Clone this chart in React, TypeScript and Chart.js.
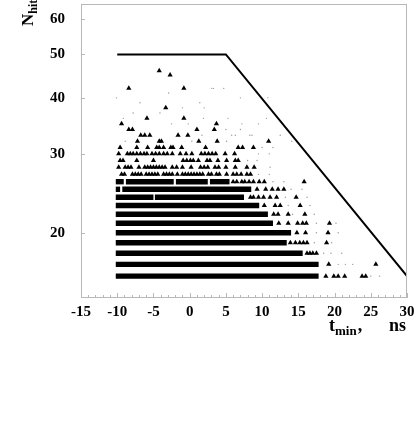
import React, { useEffect, useRef } from "react";
import { Chart, registerables } from "chart.js";
Chart.register(...registerables);

// tick labels
const xTicks = [-15, -10, -5, 0, 5, 10, 15, 20, 25, 30];
const yTicks = [20, 30, 40, 50, 60];

// boundary line (t_min, N_hit)
const boundaryX = [-10, 5, 30];
const boundaryY = [50, 50, 16];

// dense runs of overlapping triangles: row N_hit, start t_min, end t_min
const denseN = [16, 17, 18, 19, 20, 21, 22, 23, 24, 24, 25, 25, 26, 26, 26, 26];
const denseStart = [-10.2, -10.2, -10.2, -10.2, -10.2, -10.2, -10.2, -10.2, -10.2, -4.8, -10.2, -9.3, -10.2, -8.8, -1.9, 2.8];
const denseEnd = [17.8, 17.8, 15.6, 13.4, 14.0, 11.5, 10.8, 9.6, -5.0, 7.5, -9.6, 8.5, -9.1, -2.2, 2.5, 5.5];

// individual triangle events per N_hit row
const rowN = [16, 17, 18, 19, 20, 21, 22, 23, 24, 25, 26, 27, 28, 29, 30, 31, 32, 33, 34, 35, 36, 38, 42, 45, 46];
const rowX = [
  [18.8, 19.9, 20.5, 21.4, 23.8, 24.3],
  [19.2, 25.7],
  [16.2, 16.6, 17.0, 17.5],
  [13.9, 14.6, 15.2, 15.7, 16.2, 18.9],
  [14.8, 16.0, 19.1],
  [12.3, 13.6, 14.9, 15.6, 16.1, 19.3],
  [11.6, 12.2, 13.6, 15.9],
  [10.3, 11.8, 12.5, 15.25],
  [8.4, 8.8, 9.5, 10.2, 11.1, 12.0, 14.7],
  [9.3, 10.5, 11.4, 12.2, 13.0],
  [6.0, 6.5, 7.2, 7.6, 8.2, 8.8, 9.6, 10.3, 15.8],
  [-9.4, -9.0, -7.9, -7.5, -7.1, -6.7, -6.0, -5.6, -5.2, -4.8, -4.4, -3.6, -3.2, -2.8, -2.4, -1.7, -1.0, -0.6, -0.2, 0.2, 0.6, 1.0, 1.4, 1.8, 2.6, 3.0, 3.7, 4.1, 5.1, 6.0, 6.5, 7.1, 7.9, 8.4],
  [-9.8, -8.9, -8.5, -8.1, -7.0, -6.2, -5.8, -5.4, -5.0, -4.6, -4.2, -3.8, -3.4, -2.4, -1.8, -1.0, 0.2, 1.5, 2.0, 2.5, 3.5, 4.0, 5.0, 6.3, 7.9, 8.9],
  [-9.6, -9.2, -7.3, -5.0, -0.9, -0.4, 0.1, 0.5, 1.2, 2.4, 2.8, 3.9, 5.1, 6.3, 6.7],
  [-9.8, -8.6, -8.2, -7.8, -7.3, -6.8, -6.3, -5.9, -5.2, -4.7, -4.2, -3.6, -3.1, -2.4, -1.3, -0.5, 0.3, 1.6, 2.1, 2.6, 3.1, 3.6, 4.9, 6.2],
  [-9.6, -7.3, -5.8, -4.55, -4.2, -3.6, -2.6, -2.3, -1.1, 2.2, 6.7, 7.3, 8.8],
  [-7.2, -4.2, -3.9, 1.26, 3.8, 10.9],
  [-6.75, -6.2, -5.5, -1.6, -0.25],
  [-8.4, -7.9, 1.0, 3.4],
  [-9.4, 3.7],
  [-5.9, -0.8],
  [-3.3],
  [-8.4, -0.8],
  [-2.7],
  [-4.2],
];

// faint single-hit dots
const dotN = [40, 40, 40, 39, 39, 41, 42, 42, 42, 37, 37, 36, 36, 36, 36, 35, 35, 35, 35, 32, 32, 32, 32, 33, 33, 33, 33, 33, 33, 30, 30, 28,
  17, 17, 17, 16, 16, 18, 18, 18, 19, 19, 20, 20, 21, 21, 22, 22, 23, 23, 24, 24, 25, 25, 26, 26, 27, 27, 29, 29, 31, 31, 34, 34, 38, 38];
const dotX = [-10.1, 7.0, 10.8, -6.85, 1.4, -2.9, 3.05, 3.3, 4.7, -7.8, -4.1, -9.15, 1.9, 5.3, 10.6, -2.5, -0.2, 7.2, 9.5, -8.9, 0.3, 5.1, 14.1, 6.3, 8.3, 1.7, 5.8, 8.6, 12.5, 9.5, 11.0, 11.1,
  20.5, 21.5, 22.5, 25.0, 26.2, 18.5, 19.5, 21.0, 17.2, 19.6, 17.5, 20.5, 17.5, 20.2, 14.2, 17.2, 13.6, 16.6, 13.2, 16.2, 14.0, 15.5, 11.5, 13.0, 9.5, 11.0, 8.0, 9.3, 10.0, 11.5, 5.0, 7.0, -1.0, 2.0];

const SERIF = "'Liberation Serif', 'Times New Roman', serif";

const decor = {
  id: "decor",
  afterDraw(chart: any) {
    const { ctx, chartArea: a, scales } = chart;
    const xs = scales.x;
    const ys = scales.y;
    ctx.save();
    ctx.strokeStyle = "#b8b8b8";
    ctx.lineWidth = 1;
    ctx.strokeRect(a.left + 0.5, a.top + 0.5, a.right - a.left - 1, a.bottom - a.top - 1);
    ctx.beginPath();
    for (let v = Math.ceil(xs.min); v <= xs.max; v++) {
      const px = Math.round(xs.getPixelForValue(v)) + 0.5;
      const len = v % 5 === 0 ? 5 : 3;
      ctx.moveTo(px, a.bottom);
      ctx.lineTo(px, a.bottom - len);
    }
    for (const t of ys.ticks) {
      const py = Math.round(ys.getPixelForValue(t.value)) + 0.5;
      ctx.moveTo(a.left, py);
      ctx.lineTo(a.left + 4, py);
    }
    ctx.stroke();

    ctx.fillStyle = "#000";
    ctx.textBaseline = "alphabetic";
    // x title
    ctx.textAlign = "left";
    const x0 = 329;
    ctx.font = `bold 18px ${SERIF}`;
    const tW = ctx.measureText("t").width;
    ctx.fillText("t", x0, 331);
    ctx.font = `bold 13px ${SERIF}`;
    const mW = ctx.measureText("min").width;
    ctx.fillText("min", x0 + tW, 335);
    ctx.font = `bold 18px ${SERIF}`;
    ctx.fillText(",", x0 + tW + mW + 1, 331);
    ctx.textAlign = "right";
    ctx.fillText("ns", a.right - 1, 331);

    // y title
    ctx.textAlign = "left";
    ctx.translate(33, 26);
    ctx.rotate(-Math.PI / 2);
    ctx.font = `bold 17px ${SERIF}`;
    ctx.fillText("N", 0, 0);
    const nW = ctx.measureText("N").width;
    ctx.font = `bold 12px ${SERIF}`;
    ctx.fillText("hit", nW, 4);
    ctx.restore();
  },
};

export default function App() {
  const ref = useRef<HTMLCanvasElement>(null);
  useEffect(() => {
    if (!ref.current) return;
    const triangles: { x: number; y: number }[] = [];
    rowN.forEach((n, i) => rowX[i].forEach((x) => triangles.push({ x, y: n })));
    const dots = dotN.map((n, i) => ({ x: dotX[i], y: n }));
    const segs = denseN.map((n, i) => ({
      data: [
        { x: denseStart[i], y: n },
        { x: denseEnd[i], y: n },
      ],
      showLine: true,
      borderColor: "#000",
      borderWidth: 5.4,
      borderCapStyle: "butt",
      pointRadius: 0,
    }));
    const chart = new Chart(ref.current, {
      type: "scatter",
      data: {
        datasets: [
          ...segs,
          {
            data: triangles,
            pointStyle: "triangle",
            pointRadius: 3,
            backgroundColor: "#000",
            borderWidth: 0,
          },
          {
            data: dots,
            pointStyle: "circle",
            pointRadius: 0.7,
            backgroundColor: "#999",
            borderWidth: 0,
          },
          {
            data: boundaryX.map((x, i) => ({ x, y: boundaryY[i] })),
            showLine: true,
            borderColor: "#000",
            borderWidth: 2,
            pointRadius: 0,
          },
        ] as any,
      },
      options: {
        animation: false,
        responsive: false,
        events: [],
        layout: { padding: { left: 0, right: 8, top: 1, bottom: 0 } },
        plugins: { legend: { display: false }, tooltip: { enabled: false } },
        scales: {
          x: {
            type: "linear",
            min: -15,
            max: 30,
            afterBuildTicks: (s: any) => {
              s.ticks = xTicks.map((v) => ({ value: v }));
            },
            afterFit: (s: any) => {
              s.height = 138;
              s.paddingLeft = 0;
              s.paddingRight = 0;
            },
            grid: { display: false, drawTicks: false },
            border: { display: false },
            ticks: {
              padding: 5,
              color: "#000",
              maxRotation: 0,
              autoSkip: false,
              font: { family: SERIF, size: 15, weight: "bold" },
              callback: (v: any) => String(v),
            },
          },
          y: {
            type: "logarithmic",
            min: 14.3,
            max: 64.8,
            afterBuildTicks: (s: any) => {
              s.ticks = yTicks.map((v) => ({ value: v }));
            },
            afterFit: (s: any) => {
              s.width = 81;
              s.paddingTop = 0;
              s.paddingBottom = 0;
            },
            grid: { display: false, drawTicks: false },
            border: { display: false },
            ticks: {
              padding: 16,
              color: "#000",
              autoSkip: false,
              font: { family: SERIF, size: 15, weight: "bold" },
              callback: (v: any) => String(v),
            },
          },
        },
      } as any,
      plugins: [decor],
    });
    return () => chart.destroy();
  }, []);
  return (
    <canvas
      ref={ref}
      width={415}
      height={436}
      style={{ position: "absolute", left: 0, top: 0, display: "block" }}
    />
  );
}
